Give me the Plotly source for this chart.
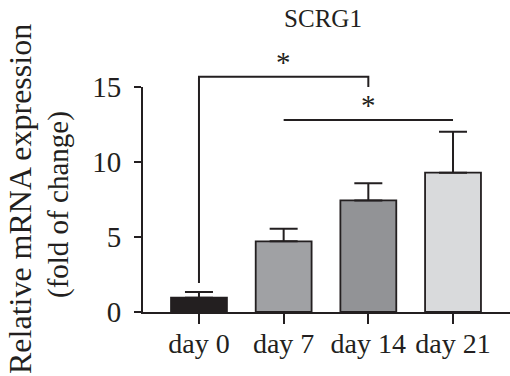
import plotly.graph_objects as go

categories = ["day 0", "day 7", "day 14", "day 21"]
means = [0.95, 4.71, 7.44, 9.29]
errors = [0.38, 0.84, 1.14, 2.73]
bar_colors = ["#231f20", "#a0a1a4", "#929396", "#d9dadc"]
y_ticks = [0, 5, 10, 15]
title_text = "SCRG1"
y_title_line1 = "Relative mRNA expression"
y_title_line2 = "(fold of change)"

# significance brackets
bracket1 = dict(i0=0, i1=2, base=1.93, top=15.69, end=15.0, label="*", label_y=16.7)
bracket2 = dict(i0=1, i1=3, top=12.8, label="*", label_y=13.8)

FONT = "Liberation Serif, Times New Roman, serif"
INK = "#231f20"

xpos = list(range(len(categories)))
XMIN, XMAX = -0.661, 3.673
YMIN, YMAX = 0, 15
L, R, T, B = 143, 0, 87, 64
W, H = 510, 376


def px(v):
    return (v - XMIN) / (XMAX - XMIN)


def py(v):
    return (v - YMIN) / (YMAX - YMIN)


def pix_x(p):
    return (p - L) / (W - L - R)


def pix_y(p):
    return (H - B - p) / (H - B - T)


fig = go.Figure()
fig.add_trace(go.Bar(
    x=xpos, y=means, width=0.66,
    marker=dict(color=bar_colors, line=dict(color=INK, width=1.8)),
    error_y=dict(type="data", array=errors, arrayminus=[0] * len(errors),
                 symmetric=False, color=INK, thickness=2, width=14),
    showlegend=False, hoverinfo="skip",
))

shapes = []
b = bracket1
shapes.append(dict(type="path", xref="paper", yref="paper",
                   path=f"M {px(b['i0'])},{py(b['base'])} L {px(b['i0'])},{py(b['top'])} "
                        f"L {px(b['i1'])},{py(b['top'])} L {px(b['i1'])},{py(b['end'])}",
                   line=dict(color=INK, width=2)))
b2 = bracket2
shapes.append(dict(type="line", xref="paper", yref="paper",
                   x0=px(b2['i0']), x1=px(b2['i1']), y0=py(b2['top']), y1=py(b2['top']),
                   line=dict(color=INK, width=2)))

annotations = [
    dict(xref="paper", yref="paper", x=px((b['i0'] + b['i1']) / 2), y=py(b['label_y']),
         text=b['label'], showarrow=False, font=dict(family=FONT, size=29, color=INK),
         xanchor="center", yanchor="middle"),
    dict(xref="paper", yref="paper", x=px((b2['i0'] + b2['i1']) / 2), y=py(b2['label_y']),
         text=b2['label'], showarrow=False, font=dict(family=FONT, size=29, color=INK),
         xanchor="center", yanchor="middle"),
    dict(xref="paper", yref="paper", x=pix_x(20), y=pix_y(199), text=y_title_line1,
         textangle=-90, showarrow=False, font=dict(family=FONT, size=32, color=INK),
         xanchor="center", yanchor="middle"),
    dict(xref="paper", yref="paper", x=pix_x(58), y=pix_y(205), text=y_title_line2,
         textangle=-90, showarrow=False, font=dict(family=FONT, size=29, color=INK),
         xanchor="center", yanchor="middle"),
]

fig.update_layout(
    width=W, height=H,
    margin=dict(l=L, r=R, t=T, b=B),
    paper_bgcolor="white", plot_bgcolor="white",
    title=dict(text=title_text, xref="container", x=323 / W, y=1 - 18 / H,
               xanchor="center", yanchor="middle",
               font=dict(family=FONT, size=25, color=INK)),
    shapes=shapes, annotations=annotations,
    bargap=0,
)
fig.update_xaxes(range=[XMIN, XMAX], tickvals=xpos, ticktext=categories,
                 showline=True, linecolor=INK, linewidth=2, showgrid=False, zeroline=False,
                 ticks="outside", ticklen=10, tickwidth=2, tickcolor=INK,
                 ticklabelstandoff=-5,
                 tickfont=dict(family=FONT, size=28, color=INK))
fig.update_yaxes(range=[YMIN, YMAX], tickvals=y_ticks,
                 showline=True, linecolor=INK, linewidth=2, showgrid=False, zeroline=False,
                 ticks="outside", ticklen=7, tickwidth=2, tickcolor=INK,
                 ticklabelstandoff=7,
                 tickfont=dict(family=FONT, size=29, color=INK))

fig.write_html("out.html", config={"displayModeBar": False, "staticPlot": True})
with open("out.html", "r", encoding="utf-8") as f:
    html = f.read()
html = html.replace("<head>", "<head><style>html,body{margin:0;padding:0;overflow:hidden;}</style>", 1)
with open("out.html", "w", encoding="utf-8") as f:
    f.write(html)
